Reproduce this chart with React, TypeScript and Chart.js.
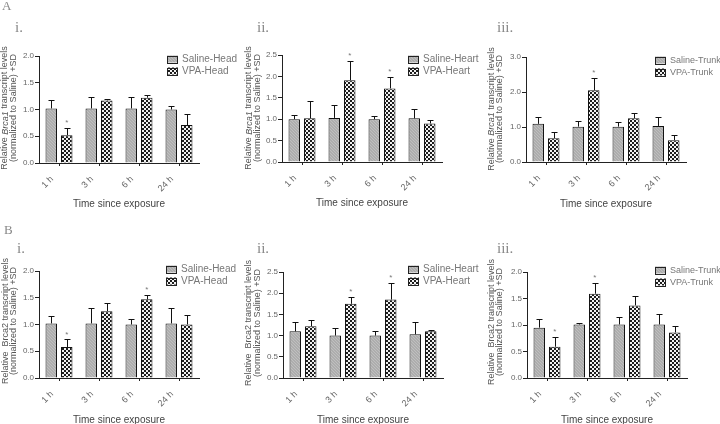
import React, { useEffect, useRef } from "react";
import { Chart, registerables } from "chart.js";

Chart.register(...registerables);

// ---------- DATA ----------
const categories = ["1 h", "3 h", "6 h", "24 h"];

// A i. Brca1 Head
const brca1HeadSaline = [1.02, 1.02, 1.02, 1.0];
const brca1HeadSalineSD = [0.15, 0.22, 0.22, 0.06];
const brca1HeadVPA = [0.52, 1.17, 1.22, 0.71];
const brca1HeadVPASD = [0.14, 0.02, 0.05, 0.21];
const brca1HeadSig = [true, false, false, false];

// A ii. Brca1 Heart
const brca1HeartSaline = [1.0, 1.03, 1.0, 1.02];
const brca1HeartSalineSD = [0.09, 0.3, 0.07, 0.21];
const brca1HeartVPA = [1.02, 1.91, 1.72, 0.9];
const brca1HeartVPASD = [0.41, 0.46, 0.27, 0.08];
const brca1HeartSig = [false, true, true, false];

// A iii. Brca1 Trunk
const brca1TrunkSaline = [1.09, 1.01, 1.01, 1.03];
const brca1TrunkSalineSD = [0.21, 0.17, 0.14, 0.27];
const brca1TrunkVPA = [0.68, 2.05, 1.25, 0.62];
const brca1TrunkVPASD = [0.19, 0.36, 0.14, 0.16];
const brca1TrunkSig = [false, true, false, false];

// B i. Brca2 Head
const brca2HeadSaline = [1.02, 1.02, 1.0, 1.02];
const brca2HeadSalineSD = [0.13, 0.28, 0.1, 0.29];
const brca2HeadVPA = [0.58, 1.25, 1.47, 1.0];
const brca2HeadVPASD = [0.14, 0.15, 0.08, 0.18];
const brca2HeadSig = [true, false, true, false];

// B ii. Brca2 Heart
const brca2HeartSaline = [1.1, 1.0, 1.0, 1.03];
const brca2HeartSalineSD = [0.22, 0.18, 0.12, 0.3];
const brca2HeartVPA = [1.22, 1.75, 1.85, 1.1];
const brca2HeartVPASD = [0.14, 0.17, 0.39, 0.03];
const brca2HeartSig = [false, true, true, false];

// B iii. Brca2 Trunk
const brca2TrunkSaline = [0.95, 1.01, 1.01, 1.01];
const brca2TrunkSalineSD = [0.17, 0.03, 0.14, 0.2];
const brca2TrunkVPA = [0.59, 1.59, 1.37, 0.86];
const brca2TrunkVPASD = [0.18, 0.2, 0.17, 0.12];
const brca2TrunkSig = [true, true, false, false];

// ---------- PANELS (layout) ----------
type PanelCfg = {
  x: number; y: number;
  left: number; top: number; right: number; bottom: number;
  yMax: number; yStep: number;
  gene: string; italic: boolean; gap: string;
  tissue: string;
  saline: number[]; salineSD: number[];
  vpa: number[]; vpaSD: number[]; sig: boolean[];
  legendX: number; legendY: number; legendFont: number;
  titleX1: number; titleX2: number; titleYC: number;
  xTitleY: number;
  roman: string; romanX: number; romanTop: number;
};

const panels: PanelCfg[] = [
  { x: 0, y: 0, left: 39, top: 56, right: 199, bottom: 163, yMax: 2.0, yStep: 0.5,
    gene: "Brca1", italic: true, gap: " ", tissue: "Head",
    saline: brca1HeadSaline, salineSD: brca1HeadSalineSD, vpa: brca1HeadVPA, vpaSD: brca1HeadVPASD, sig: brca1HeadSig,
    legendX: 167, legendY: 59, legendFont: 10, titleX1: 5, titleX2: 14, titleYC: 108, xTitleY: 204,
    roman: "i.", romanX: 15, romanTop: 20 },
  { x: 240, y: 0, left: 42, top: 55, right: 202, bottom: 162, yMax: 2.5, yStep: 0.5,
    gene: "Brca1", italic: true, gap: " ", tissue: "Heart",
    saline: brca1HeartSaline, salineSD: brca1HeartSalineSD, vpa: brca1HeartVPA, vpaSD: brca1HeartVPASD, sig: brca1HeartSig,
    legendX: 168, legendY: 59, legendFont: 10, titleX1: 9, titleX2: 18, titleYC: 108, xTitleY: 203,
    roman: "ii.", romanX: 17, romanTop: 20 },
  { x: 480, y: 0, left: 46, top: 57, right: 206, bottom: 162, yMax: 3.0, yStep: 1.0,
    gene: "Brca1", italic: true, gap: " ", tissue: "Trunk",
    saline: brca1TrunkSaline, salineSD: brca1TrunkSalineSD, vpa: brca1TrunkVPA, vpaSD: brca1TrunkVPASD, sig: brca1TrunkSig,
    legendX: 175, legendY: 60, legendFont: 9, titleX1: 11.5, titleX2: 19.5, titleYC: 109, xTitleY: 204,
    roman: "iii.", romanX: 17, romanTop: 20 },
  { x: 0, y: 212, left: 39, top: 59, right: 199, bottom: 166, yMax: 2.0, yStep: 0.5,
    gene: "Brca2", italic: false, gap: "  ", tissue: "Head",
    saline: brca2HeadSaline, salineSD: brca2HeadSalineSD, vpa: brca2HeadVPA, vpaSD: brca2HeadVPASD, sig: brca2HeadSig,
    legendX: 166, legendY: 57, legendFont: 10, titleX1: 6, titleX2: 13.5, titleYC: 109, xTitleY: 208,
    roman: "i.", romanX: 17, romanTop: 29 },
  { x: 240, y: 212, left: 43, top: 60, right: 203, bottom: 166, yMax: 2.5, yStep: 0.5,
    gene: "Brca2", italic: false, gap: "  ", tissue: "Heart",
    saline: brca2HeartSaline, salineSD: brca2HeartSalineSD, vpa: brca2HeartVPA, vpaSD: brca2HeartVPASD, sig: brca2HeartSig,
    legendX: 168, legendY: 57, legendFont: 10, titleX1: 9, titleX2: 17.5, titleYC: 111, xTitleY: 208,
    roman: "ii.", romanX: 17, romanTop: 29 },
  { x: 480, y: 212, left: 47, top: 60, right: 207, bottom: 166, yMax: 2.0, yStep: 0.5,
    gene: "Brca2", italic: false, gap: "  ", tissue: "Trunk",
    saline: brca2TrunkSaline, salineSD: brca2TrunkSalineSD, vpa: brca2TrunkVPA, vpaSD: brca2TrunkVPASD, sig: brca2TrunkSig,
    legendX: 175, legendY: 58, legendFont: 9, titleX1: 12, titleX2: 19.5, titleYC: 110, xTitleY: 208,
    roman: "iii.", romanX: 17, romanTop: 29 },
];

const FONT = "'Liberation Sans', Arial, sans-serif";
const W = 240;
const H = 212;
const Y_AXIS_W = 22;
const X_AXIS_H = 30;

function makeSalinePattern(ctx: CanvasRenderingContext2D) {
  const c = document.createElement("canvas");
  c.width = 3; c.height = 3;
  const g = c.getContext("2d")!;
  g.fillStyle = "#adadad";
  g.fillRect(0, 0, 3, 3);
  g.fillStyle = "#bfbfbf";
  g.fillRect(0, 0, 1, 1);
  g.fillRect(1, 1, 1, 1);
  g.fillRect(2, 2, 1, 1);
  return ctx.createPattern(c, "repeat")!;
}

function makeVPAPattern(ctx: CanvasRenderingContext2D) {
  const c = document.createElement("canvas");
  c.width = 4; c.height = 4;
  const g = c.getContext("2d")!;
  g.fillStyle = "#f2f2f2";
  g.fillRect(0, 0, 4, 4);
  g.fillStyle = "#1c1c1c";
  g.fillRect(2, 0, 2, 2);
  g.fillRect(0, 2, 2, 2);
  return ctx.createPattern(c, "repeat")!;
}

function Panel({ cfg }: { cfg: PanelCfg }) {
  const ref = useRef<HTMLCanvasElement>(null);
  useEffect(() => {
    const canvas = ref.current!;
    const ctx0 = canvas.getContext("2d")!;
    const salinePat = makeSalinePattern(ctx0);
    const vpaPat = makeVPAPattern(ctx0);

    const overlay = {
      id: "overlay" + cfg.x + "_" + cfg.y,
      afterDatasetsDraw(chart: any) {
        const ctx = chart.ctx as CanvasRenderingContext2D;
        const ys = chart.scales.y;
        ctx.save();
        chart.data.datasets.forEach((ds: any, di: number) => {
          const meta = chart.getDatasetMeta(di);
          meta.data.forEach((bar: any, i: number) => {
            const topV = ds.data[i] + ds.sd[i];
            const ty = ys.getPixelForValue(topV);
            const bx = Math.round(bar.x) + 0.5;
            ctx.strokeStyle = "#111";
            ctx.lineWidth = 1;
            ctx.beginPath();
            ctx.moveTo(bx, bar.y);
            ctx.lineTo(bx, Math.round(ty) + 0.5);
            ctx.moveTo(bx - 3, Math.round(ty) + 0.5);
            ctx.lineTo(bx + 3, Math.round(ty) + 0.5);
            ctx.stroke();
            if (ds.sig && ds.sig[i]) {
              ctx.fillStyle = "#777";
              ctx.font = "8px " + FONT;
              ctx.textAlign = "center";
              ctx.textBaseline = "middle";
              ctx.fillText("*", bar.x, ty - 5);
            }
          });
        });
        ctx.restore();
      },
      afterDraw(chart: any) {
        const ctx = chart.ctx as CanvasRenderingContext2D;
        const area = chart.chartArea;
        ctx.save();
        // Legend
        const items = [
          { label: "Saline-" + cfg.tissue, fill: salinePat },
          { label: "VPA-" + cfg.tissue, fill: vpaPat },
        ];
        items.forEach((it, k) => {
          const cy = cfg.legendY + k * 12;
          ctx.fillStyle = it.fill as any;
          ctx.fillRect(cfg.legendX, cy - 3.5, 11, 7);
          ctx.strokeStyle = "#222";
          ctx.lineWidth = 1;
          ctx.strokeRect(cfg.legendX + 0.5, Math.round(cy - 3.5) + 0.5, 10, 7);
          ctx.fillStyle = "#777";
          ctx.font = cfg.legendFont + "px " + FONT;
          ctx.textAlign = "left";
          ctx.textBaseline = "middle";
          ctx.fillText(it.label, cfg.legendX + 15, cy + 0.5);
        });
        // X title
        ctx.fillStyle = "#444";
        ctx.font = "10px " + FONT;
        ctx.textAlign = "center";
        ctx.textBaseline = "middle";
        ctx.fillText("Time since exposure", (area.left + area.right) / 2, cfg.xTitleY);
        // Y title (two lines, rotated)
        const normal = "9px " + FONT;
        const ital = (cfg.italic ? "italic " : "") + "9px " + FONT;
        const segs = [
          { t: "Relative" + cfg.gap, f: normal },
          { t: cfg.gene, f: ital },
          { t: " transcript levels", f: normal },
        ];
        let total = 0;
        segs.forEach((s) => { ctx.font = s.f; total += ctx.measureText(s.t).width; });
        ctx.save();
        ctx.translate(cfg.titleX1, cfg.titleYC);
        ctx.rotate(-Math.PI / 2);
        ctx.fillStyle = "#555";
        ctx.textAlign = "left";
        ctx.textBaseline = "middle";
        let xx = -total / 2;
        segs.forEach((s) => {
          ctx.font = s.f;
          ctx.fillText(s.t, xx, 0);
          xx += ctx.measureText(s.t).width;
        });
        ctx.restore();
        ctx.save();
        ctx.translate(cfg.titleX2, cfg.titleYC);
        ctx.rotate(-Math.PI / 2);
        ctx.fillStyle = "#555";
        ctx.font = normal;
        ctx.textAlign = "center";
        ctx.textBaseline = "middle";
        ctx.fillText("(normalized to Saline) +SD", 0, 0);
        ctx.restore();
        ctx.restore();
      },
    };

    const chart = new Chart(canvas, {
      type: "bar",
      data: {
        labels: categories,
        datasets: [
          {
            label: "Saline-" + cfg.tissue,
            data: cfg.saline,
            sd: cfg.salineSD,
            backgroundColor: salinePat,
            borderColor: "#111",
            borderWidth: 1,
            categoryPercentage: 0.775,
            barPercentage: 0.74,
          } as any,
          {
            label: "VPA-" + cfg.tissue,
            data: cfg.vpa,
            sd: cfg.vpaSD,
            sig: cfg.sig,
            backgroundColor: vpaPat,
            borderColor: "#111",
            borderWidth: 1,
            categoryPercentage: 0.775,
            barPercentage: 0.74,
          } as any,
        ],
      },
      options: {
        responsive: false,
        animation: false,
        devicePixelRatio: 1,
        events: [],
        layout: {
          padding: {
            left: cfg.left - Y_AXIS_W,
            top: cfg.top,
            right: W - cfg.right,
            bottom: H - cfg.bottom - X_AXIS_H,
          },
        },
        plugins: {
          legend: { display: false },
          tooltip: { enabled: false },
          title: { display: false },
        },
        scales: {
          x: {
            afterFit: (s: any) => { s.height = X_AXIS_H; },
            grid: {
              display: true,
              drawOnChartArea: false,
              drawTicks: true,
              tickLength: 3,
              offset: false,
              color: "#222",
            },
            border: { display: true, color: "#222", width: 1 },
            ticks: {
              autoSkip: false,
              minRotation: 45,
              maxRotation: 45,
              padding: 8,
              labelOffset: -7,
              color: "#666",
              font: { size: 9, family: FONT },
            },
          },
          y: {
            min: 0,
            max: cfg.yMax,
            afterFit: (s: any) => { s.width = Y_AXIS_W; },
            grid: {
              display: true,
              drawOnChartArea: false,
              drawTicks: true,
              tickLength: 4,
              color: "#222",
            },
            border: { display: true, color: "#222", width: 1 },
            ticks: {
              stepSize: cfg.yStep,
              padding: 1,
              color: "#666",
              font: { size: 8, family: FONT },
              callback: (v: any) => Number(v).toFixed(1),
            },
          },
        },
      },
      plugins: [overlay],
    });
    return () => chart.destroy();
  }, [cfg]);

  return (
    <div style={{ position: "absolute", left: cfg.x, top: cfg.y, width: W, height: H }}>
      <canvas ref={ref} width={W} height={H} style={{ display: "block", width: W, height: H }} />
      <div
        style={{
          position: "absolute",
          left: cfg.romanX,
          top: cfg.romanTop,
          fontFamily: "'Liberation Serif', 'Times New Roman', serif",
          fontSize: 15,
          lineHeight: "15px",
          color: "#888",
          whiteSpace: "nowrap",
        }}
      >
        {cfg.roman}
      </div>
    </div>
  );
}

export default function App() {
  return (
    <div style={{ position: "absolute", left: 0, top: 0, width: 720, height: 424, background: "#fff", overflow: "hidden" }}>
      {panels.map((p, i) => (
        <Panel key={i} cfg={p} />
      ))}
      <div style={{ position: "absolute", left: 2, top: -1, fontFamily: "'Liberation Serif', serif", fontSize: 13, lineHeight: "13px", color: "#888" }}>A</div>
      <div style={{ position: "absolute", left: 4, top: 223, fontFamily: "'Liberation Serif', serif", fontSize: 13, lineHeight: "13px", color: "#888" }}>B</div>
    </div>
  );
}
